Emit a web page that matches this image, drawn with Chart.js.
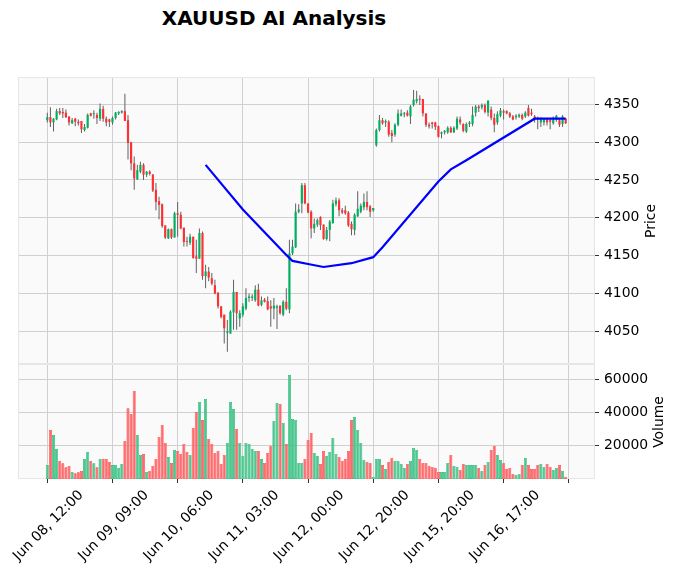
<!DOCTYPE html>
<html>
<head>
<meta charset="utf-8">
<title>XAUUSD AI Analysis</title>
<script src="https://cdn.jsdelivr.net/npm/chart.js@4.4.1/dist/chart.umd.min.js"></script>
<style>
  body { margin: 0; background: #fff; }
  #wrap { position: relative; width: 677px; height: 574px; overflow: hidden; font-family: 'DejaVu Sans', sans-serif; color: #000; }
  canvas { position: absolute; left: 0; }
  #title { position: absolute; left: 0; width: 548px; top: 8px; text-align: center; font-weight: bold; font-size: 20px; line-height: 20px; }
  .ylab { position: absolute; font-size: 13.9px; line-height: 1; white-space: nowrap; transform: translate(-50%, -50%) rotate(-90deg); }
</style>
</head>
<body>
<div id="wrap">
  <div id="title">XAUUSD AI Analysis</div>
  <canvas id="priceChart" width="677" height="287" style="top:77px"></canvas>
  <canvas id="volChart" width="677" height="210" style="top:364px"></canvas>
  <div class="ylab" style="left:651px; top:221px">Price</div>
  <div class="ylab" style="left:659px; top:422px">Volume</div>
</div>
<script>
// hourly candles, index 0 = Jun 08 12:00
var opens = [4329,4333,4326,4330,4341,4340,4339,4334,4325,4331,
  4327,4328,4316,4319,4338,4337,4336,4331,4344,4331,
  4330,4326,4332,4338,4339,4341,4329,4300,4272,4251,
  4261,4270,4257,4261,4257,4237,4222,4218,4190,4173,
  4185,4174,4206,4204,4187,4169,4167,4175,4149,4146,
  4180,4123,4129,4120,4111,4101,4083,4072,4048,4047,
  4075,4102,4067,4072,4080,4094,4094,4091,4105,4085,
  4092,4090,4083,4080,4081,4084,4072,4089,4079,4153,
  4161,4208,4219,4243,4219,4208,4186,4191,4201,4191,
  4172,4184,4193,4218,4223,4210,4210,4207,4192,4184,
  4202,4208,4214,4221,4215,4210,4296,4316,4329,4326,
  4327,4312,4310,4323,4335,4337,4339,4334,4349,4354,
  4357,4357,4338,4323,4326,4326,4321,4311,4313,4313,
  4319,4313,4318,4330,4324,4314,4324,4324,4339,4347,
  4346,4349,4339,4343,4332,4326,4335,4341,4341,4338,
  4334,4333,4334,4336,4334,4345,4339,4334,4331,4326,
  4326,4330,4329,4325,4330,4329,4324,4331];
var highs = [4339,4346,4332,4344,4345,4345,4343,4334,4332,4332,
  4330,4328,4324,4338,4339,4342,4339,4351,4348,4334,
  4331,4334,4340,4341,4342,4364,4336,4300,4281,4270,
  4274,4272,4262,4263,4258,4246,4228,4219,4190,4186,
  4186,4208,4221,4208,4187,4175,4179,4175,4171,4186,
  4182,4138,4135,4127,4118,4102,4083,4072,4065,4078,
  4118,4102,4078,4087,4107,4100,4099,4111,4113,4096,
  4094,4096,4091,4094,4085,4084,4091,4107,4171,4171,
  4219,4218,4246,4246,4219,4210,4199,4199,4202,4191,
  4188,4197,4224,4227,4226,4213,4216,4209,4195,4206,
  4235,4219,4232,4235,4217,4213,4318,4336,4332,4330,
  4329,4316,4325,4343,4343,4340,4342,4349,4369,4368,
  4362,4357,4338,4326,4327,4327,4322,4314,4316,4321,
  4321,4321,4334,4334,4325,4326,4328,4347,4349,4349,
  4351,4351,4355,4347,4338,4341,4345,4343,4342,4340,
  4336,4337,4338,4338,4341,4349,4344,4336,4334,4333,
  4332,4331,4331,4334,4336,4331,4336,4332];
var lows = [4326,4320,4314,4329,4336,4332,4332,4322,4324,4321,
  4322,4312,4314,4318,4334,4331,4324,4328,4327,4321,
  4320,4323,4330,4336,4338,4328,4277,4263,4237,4250,
  4259,4250,4254,4256,4234,4210,4198,4187,4172,4172,
  4172,4174,4175,4185,4162,4162,4164,4146,4127,4146,
  4118,4107,4116,4111,4099,4080,4067,4034,4023,4047,
  4052,4052,4056,4069,4078,4089,4090,4089,4083,4083,
  4088,4078,4056,4066,4053,4072,4070,4078,4074,4151,
  4160,4206,4206,4218,4206,4173,4180,4188,4184,4171,
  4170,4169,4192,4215,4202,4205,4204,4188,4177,4177,
  4201,4206,4210,4210,4201,4208,4294,4314,4323,4320,
  4307,4300,4307,4321,4334,4333,4334,4324,4347,4351,
  4349,4334,4320,4318,4318,4316,4306,4305,4310,4311,
  4312,4312,4316,4323,4313,4312,4320,4321,4334,4340,
  4343,4338,4334,4329,4313,4323,4333,4330,4337,4332,
  4329,4330,4332,4329,4332,4334,4335,4326,4317,4320,
  4322,4322,4317,4323,4327,4320,4320,4324];
var closes = [4333,4326,4331,4341,4338,4338,4333,4326,4329,4327,
  4325,4317,4320,4336,4335,4338,4332,4344,4331,4326,
  4327,4332,4339,4340,4341,4328,4299,4272,4252,4263,
  4270,4257,4261,4258,4236,4221,4217,4189,4174,4185,
  4174,4206,4204,4186,4168,4168,4175,4147,4146,4180,
  4123,4129,4121,4113,4100,4083,4069,4054,4050,4076,
  4102,4074,4074,4083,4094,4096,4096,4105,4084,4091,
  4089,4079,4080,4084,4083,4074,4089,4080,4153,4162,
  4208,4211,4243,4219,4207,4186,4192,4197,4190,4172,
  4184,4195,4219,4223,4210,4207,4206,4190,4185,4204,
  4212,4216,4221,4214,4208,4213,4316,4329,4325,4328,
  4310,4308,4323,4338,4338,4338,4335,4347,4356,4357,
  4356,4338,4323,4321,4324,4320,4307,4313,4315,4319,
  4313,4319,4331,4326,4315,4324,4326,4336,4347,4345,
  4349,4340,4355,4332,4323,4337,4342,4339,4338,4334,
  4330,4335,4336,4331,4339,4335,4337,4330,4330,4330,
  4330,4326,4327,4330,4335,4323,4334,4325];
var volumes = [8400,29400,26400,18000,10800,9400,7000,7800,4200,3400,
  4000,4800,12000,16200,10800,9400,7000,12000,12000,12000,
  10200,8400,8400,6600,9000,22800,42400,39000,52800,26400,
  14400,15000,4200,5000,7800,12000,25200,32400,21600,13200,
  9600,17400,16800,15000,21000,16200,14400,30600,40200,46200,
  35400,48000,24000,21000,15600,16800,9000,14400,21600,46200,
  42000,30000,21600,13800,21600,21000,18000,16800,16800,12000,
  9600,15600,20000,34800,45600,45000,33600,21000,62400,36000,
  35400,9600,9600,12000,23400,27600,15600,13800,9000,16800,
  13800,16200,24600,15000,13200,11000,12000,16800,35400,37200,
  29400,21600,11400,10200,9600,1200,12000,12000,8400,6000,
  10200,12600,10800,10800,9000,6600,9000,10800,18600,17400,
  12000,9600,9600,8000,7200,6600,4200,4200,4200,9600,
  14400,7800,7200,5400,9000,8400,8400,8400,8400,6600,
  4800,8400,10200,17400,19800,14400,11400,9400,6000,6600,
  3000,2400,3000,8400,12600,8400,6000,6000,8400,9000,
  7200,9000,7200,5400,6600,8400,5000,1400];

// blue line, read at its corners
var lineIdx = [51, 63, 77, 79, 84, 89, 98, 105, 108, 126, 130, 135, 157, 167];
var lineVals = [4270, 4211, 4151, 4143, 4139, 4135, 4140, 4148, 4161, 4248, 4264, 4276, 4331, 4331];

var tickPos = [0, 21, 42, 63, 84, 105, 126, 147, 168];
var tickLabels = ['Jun 08, 12:00', 'Jun 09, 09:00', 'Jun 10, 06:00', 'Jun 11, 03:00',
  'Jun 12, 00:00', 'Jun 12, 20:00', 'Jun 15, 20:00', 'Jun 16, 17:00', ''];
var priceTicks = [4050, 4100, 4150, 4200, 4250, 4300, 4350];
var volTicks = [20000, 40000, 60000];

var upCol = '#00b060', downCol = '#fe3032';
var volUp = '#4dc790', volDown = '#fd6b6c';
var gridCol = '#d0d0d0';
var xMin = -9.44, xMax = 176.45;

Chart.defaults.font.family = 'DejaVu Sans';
Chart.defaults.font.size = 13.9;
Chart.defaults.color = '#000';

var idx = opens.map(function(o, i) { return i; });
var isUp = idx.map(function(i) { return closes[i] >= opens[i]; });

var panelBg = {
  id: 'panelBg',
  beforeDraw: function(chart) {
    var a = chart.chartArea, ctx = chart.ctx;
    ctx.save();
    ctx.fillStyle = '#fafafa';
    ctx.fillRect(a.left, a.top, a.right - a.left, a.bottom - a.top);
    ctx.restore();
  },
  beforeDatasetsDraw: function(chart) {
    var a = chart.chartArea, ctx = chart.ctx;
    ctx.save();
    ctx.strokeStyle = '#e6e6e6';
    ctx.lineWidth = 1;
    ctx.strokeRect(a.left + 0.5, a.top + 0.5, a.right - a.left - 1, a.bottom - a.top - 1);
    ctx.restore();
  }
};

function xAxis(showLabels) {
  return {
    type: 'linear', min: xMin, max: xMax, offset: false,
    afterBuildTicks: function(s) { s.ticks = tickPos.map(function(v) { return {value: v}; }); },
    afterFit: function(s) { s.height = showLabels ? 95 : 0; s.paddingLeft = 0; s.paddingRight = 0; },
    ticks: {
      display: showLabels, autoSkip: false, maxRotation: 45, minRotation: 45,
      labelOffset: 34, padding: 4,
      callback: function(v, i) { return tickLabels[i]; }
    },
    grid: { color: gridCol, offset: false, drawTicks: showLabels, tickLength: 4, tickColor: '#333' },
    border: { display: false }
  };
}

function yAxis(min, max, ticks) {
  return {
    position: 'right', min: min, max: max,
    afterBuildTicks: function(s) { s.ticks = ticks.map(function(v) { return {value: v}; }); },
    afterFit: function(s) { s.width = 82; s.paddingTop = 0; s.paddingBottom = 0; },
    ticks: { padding: 5, callback: function(v) { return String(v); } },
    grid: { color: gridCol, tickLength: 4, tickColor: '#333' },
    border: { display: false }
  };
}

new Chart(document.getElementById('priceChart'), {
  type: 'bar',
  data: {
    datasets: [{
      type: 'line',
      data: lineIdx.map(function(x, k) { return {x: x, y: lineVals[k]}; }),
      borderColor: '#0000ff', borderWidth: 2.2, pointRadius: 0, tension: 0, order: 1
    }, {
      data: idx.map(function(i) { return {x: i, y: [opens[i], closes[i]]}; }),
      backgroundColor: idx.map(function(i) { return isUp[i] ? upCol : downCol; }),
      barPercentage: 0.7, categoryPercentage: 1, grouped: false, inflateAmount: 0,
      minBarLength: 1, order: 2
    }, {
      data: idx.map(function(i) { return {x: i, y: [lows[i], highs[i]]}; }),
      backgroundColor: '#606060',
      barThickness: 1, grouped: false, inflateAmount: 0, order: 3
    }]
  },
  options: {
    responsive: false, animation: false, events: [],
    layout: { padding: { left: 18, right: 0, top: 0, bottom: 0 } },
    plugins: { legend: { display: false }, tooltip: { enabled: false } },
    scales: { x: xAxis(false), y: yAxis(4006.8, 4386.1, priceTicks) }
  },
  plugins: [panelBg]
});

new Chart(document.getElementById('volChart'), {
  type: 'bar',
  data: {
    datasets: [{
      data: idx.map(function(i) { return {x: i, y: volumes[i]}; }),
      backgroundColor: idx.map(function(i) { return isUp[i] ? volUp : volDown; }),
      borderColor: idx.map(function(i) { return isUp[i] ? upCol : downCol; }),
      borderWidth: 0.6, borderSkipped: false,
      barPercentage: 0.96, categoryPercentage: 1, grouped: false, inflateAmount: 0
    }]
  },
  options: {
    responsive: false, animation: false, events: [],
    layout: { padding: { left: 18, right: 0, top: 0, bottom: 0 } },
    plugins: { legend: { display: false }, tooltip: { enabled: false } },
    scales: { x: xAxis(true), y: yAxis(0, 69000, volTicks) }
  },
  plugins: [panelBg]
});
</script>
</body>
</html>
